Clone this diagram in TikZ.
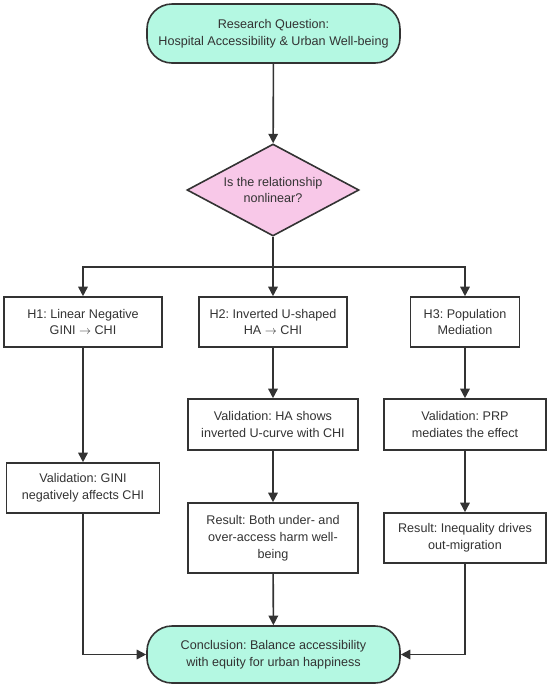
\documentclass[tikz,border=0pt]{standalone}
\usepackage{fontspec}
\setmainfont{Liberation Sans}
\usetikzlibrary{arrows.meta,shapes.geometric}
\definecolor{termfill}{HTML}{B4F8E2}
\definecolor{decfill}{HTML}{F8C8E8}
\definecolor{linec}{HTML}{333333}
\definecolor{textc}{HTML}{333333}
\newcommand{\tharr}{ $\rightarrow$ }
\begin{document}
\frenchspacing
\begin{tikzpicture}[x=1pt,y=1pt,
  base/.style={draw=linec, line width=1.6pt, text=textc,
    font=\fontsize{12.6}{16.8}\selectfont, align=center, inner sep=0pt},
  box/.style={base, rectangle, fill=white},
  term/.style={base, rectangle, rounded corners=25pt, fill=termfill},
  decision/.style={base, diamond, aspect=1.87, fill=decfill},
  arr/.style={draw=linec, line width=1.6pt, -{Triangle[length=9.5pt,width=9.5pt]}},
  conn/.style={draw=linec, line width=1.6pt}
]
\useasboundingbox (0,0) rectangle (550,-689);

\node[term, minimum width=253pt, minimum height=59pt] (q) at (273.5,-33.5)
  {Research Question:\\Hospital Accessibility \& Urban Well-being};
\node[decision, minimum width=172pt, minimum height=92pt] (d) at (273,-190)
  {Is the relationship\\nonlinear?};
\coordinate (br) at (273,-267);

\node[box, minimum width=158pt, minimum height=50pt] (h1) at (83,-322)
  {H1: Linear Negative\\GINI\tharr CHI};
\node[box, minimum width=148pt, minimum height=50pt] (h2) at (273,-322)
  {H2: Inverted U-shaped\\HA\tharr CHI};
\node[box, minimum width=109pt, minimum height=50pt] (h3) at (465,-322)
  {H3: Population\\Mediation};

\node[box, minimum width=153pt, minimum height=50pt] (v1) at (83,-488)
  {Validation: GINI\\negatively affects CHI};
\node[box, minimum width=170pt, minimum height=51pt] (v2) at (273,-424.5)
  {Validation: HA shows\\inverted U-curve with CHI};
\node[box, minimum width=162pt, minimum height=51pt] (v3) at (465,-424.5)
  {Validation: PRP\\mediates the effect};

\node[box, minimum width=170pt, minimum height=70pt] (r2) at (273,-538)
  {Result: Both under- and\\over-access harm well-\\being};
\node[box, minimum width=162pt, minimum height=50pt] (r3) at (465,-538)
  {Result: Inequality drives\\out-migration};

\node[term, minimum width=253pt, minimum height=57pt] (c) at (273.5,-654.5)
  {Conclusion: Balance accessibility\\with equity for urban happiness};

\draw[arr] (q) -- (d);
\draw[conn] (d) -- (br);
\draw[arr] (br) -| (h1);
\draw[arr] (br) -- (h2);
\draw[arr] (br) -| (h3);
\draw[arr] (h1) -- (v1);
\draw[arr] (h2) -- (v2);
\draw[arr] (h3) -- (v3);
\draw[arr] (v2) -- (r2);
\draw[arr] (v3) -- (r3);
\draw[arr] (v1) |- (c);
\draw[arr] (r2) -- (c);
\draw[arr] (r3) |- (c);
\end{tikzpicture}
\end{document}
